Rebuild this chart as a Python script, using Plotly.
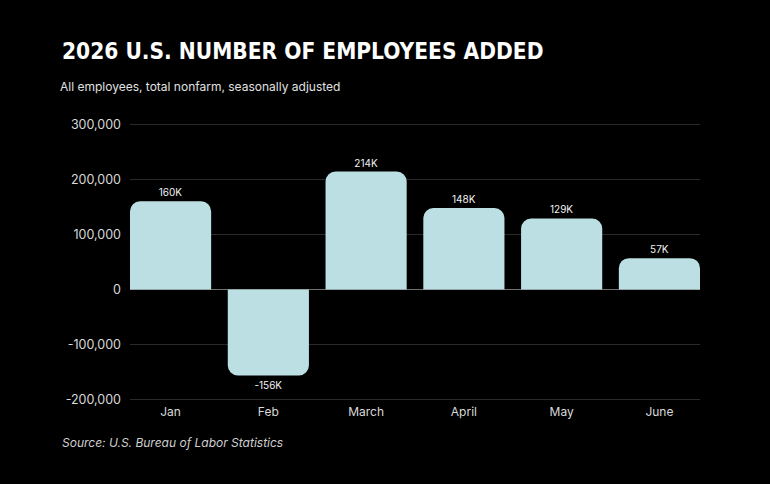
import plotly.graph_objects as go

months = ["Jan", "Feb", "March", "April", "May", "June"]
jobs_added = [160000, -156000, 214000, 148000, 129000, 57000]
y_ticks = [-200000, -100000, 0, 100000, 200000, 300000]
y_tick_labels = ["-200,000", "-100,000", "0", "100,000", "200,000", "300,000"]

bar_labels = [f"{round(v / 1000)}K" for v in jobs_added]

fig = go.Figure()
fig.add_trace(go.Bar(
    x=months,
    y=jobs_added,
    text=bar_labels,
    textposition="outside",
    textfont=dict(family="Inter, Roboto, sans-serif", size=10, color="#f2f2f2"),
    marker=dict(color="#bbdfe3", cornerradius=10, line=dict(width=0)),
    cliponaxis=False,
    hoverinfo="skip",
))

fig.update_layout(
    width=770,
    height=484,
    paper_bgcolor="#000000",
    plot_bgcolor="#000000",
    margin=dict(l=130, r=70, t=122, b=82),
    bargap=0.17,
    showlegend=False,
    font=dict(family="Inter, Roboto, sans-serif", color="#d9d9d9", size=12),
    title=dict(
        text="<b>2026 U.S. NUMBER OF EMPLOYEES ADDED</b>",
        font=dict(family="DejaVu Sans Condensed", size=22.5, color="#ffffff"),
        x=62 / 770,
        xanchor="left",
        xref="container",
        y=1 - 51 / 484,
        yanchor="middle",
        yref="container",
    ),
)

fig.update_xaxes(
    range=[-0.415, 5.415],
    showgrid=False,
    showline=False,
    ticks="",
    tickfont=dict(size=12, color="#d9d9d9"),
    ticklabelstandoff=1,
)
fig.update_yaxes(
    range=[-204000, 304000],
    tickvals=y_ticks,
    ticktext=y_tick_labels,
    showgrid=True,
    gridcolor="#2a2a2a",
    gridwidth=1,
    zeroline=True,
    zerolinecolor="#707070",
    zerolinewidth=1.2,
    ticks="",
    ticklabelstandoff=8,
    tickfont=dict(size=12.5, color="#d9d9d9"),
)

fig.add_annotation(
    text="All employees, total nonfarm, seasonally adjusted",
    xref="paper", yref="paper",
    x=(58 - 130) / 570, y=1 + 36 / 280,
    xanchor="left", yanchor="middle",
    showarrow=False,
    font=dict(size=12, color="#e0e0e0"),
)
fig.add_annotation(
    text="<i>Source: U.S. Bureau of Labor Statistics</i>",
    xref="paper", yref="paper",
    x=(60 - 130) / 570, y=-40 / 280,
    xanchor="left", yanchor="middle",
    showarrow=False,
    font=dict(size=12, color="#cfcfcf"),
)

fig.write_html(
    "out.html",
    config={"displayModeBar": False},
    post_script="document.body.style.margin='0';",
)
